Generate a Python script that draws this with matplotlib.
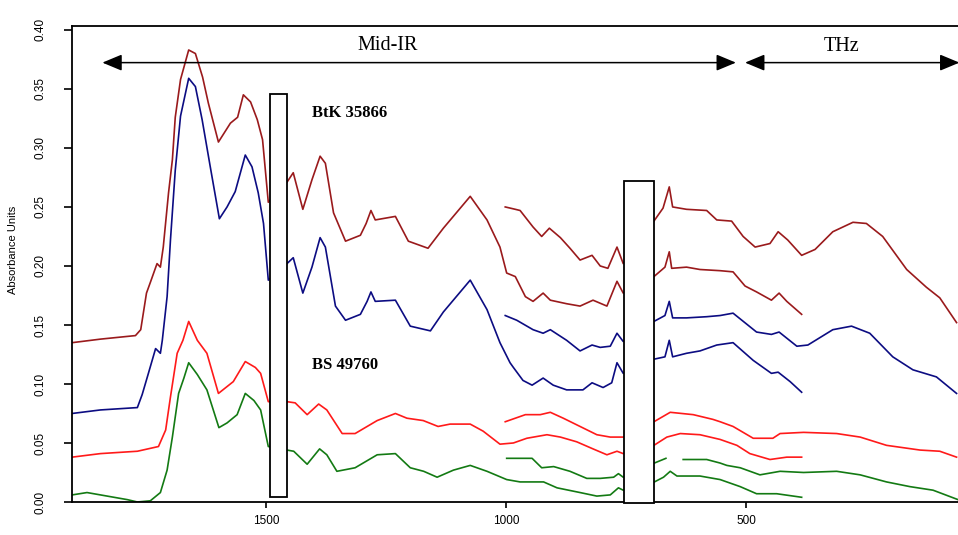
import numpy as np
import matplotlib
matplotlib.use("Agg")
import matplotlib.pyplot as plt
from matplotlib.patches import Rectangle, FancyArrowPatch

nan = np.nan

# --- BtK 35866, first spectrum (dark red) ---
btk1_mir_wn = [1905, 1846, 1773, 1762, 1750, 1742, 1728, 1721, 1715, 1704, 1696, 1690, 1679,
               1662, 1648, 1633, 1621, 1600, 1575, 1560, 1548, 1533, 1519, 1508, 1496,
               1457, 1444, 1424, 1405, 1388, 1377, 1360, 1335, 1304, 1292, 1282, 1273, 1231,
               1204, 1163, 1131, 1075, 1040, 1013, 999, 981, 960, 944, 923, 908, 874, 846,
               819, 790, 769, 756,
               692, 669, 660, 655, 624, 596, 554, 527, 502, 478, 447, 431, 415, 384]
btk1_mir_abs = [0.135, 0.138, 0.141, 0.146, 0.177, 0.186, 0.202, 0.199, 0.216, 0.262, 0.290, 0.326, 0.358,
                0.383, 0.380, 0.360, 0.338, 0.305, 0.321, 0.326, 0.345, 0.339, 0.324, 0.307, 0.254,
                0.271, 0.279, 0.248, 0.273, 0.293, 0.287, 0.245, 0.221, 0.226, 0.236, 0.247, 0.239, 0.242,
                0.221, 0.215, 0.232, 0.259, 0.239, 0.216, 0.194, 0.191, 0.174, 0.170, 0.177, 0.171, 0.168, 0.166,
                0.171, 0.166, 0.187, 0.177,
                0.191, 0.199, 0.212, 0.198, 0.199, 0.197, 0.196, 0.195, 0.183, 0.178, 0.171, 0.177, 0.170, 0.159]
btk1_fir_wn = [1002, 981, 971, 944, 926, 910, 887, 867, 846, 821, 804, 788, 769, 756,
               692, 673, 660, 653, 624, 582, 561, 530, 506, 481, 450, 433, 413, 384, 356, 319,
               277, 249, 215, 165, 124, 96, 61]
btk1_fir_abs = [0.250, 0.248, 0.247, 0.233, 0.225, 0.232, 0.224, 0.215, 0.205, 0.209, 0.200, 0.198, 0.216, 0.202,
                0.238, 0.249, 0.267, 0.250, 0.248, 0.247, 0.239, 0.238, 0.225, 0.216, 0.219, 0.229, 0.222,
                0.209, 0.214, 0.229, 0.237, 0.236, 0.225, 0.197, 0.182, 0.173, 0.152]

# --- BtK 35866, second spectrum (navy) ---
btk2_mir_wn = [1905, 1846, 1769, 1759, 1746, 1731, 1721, 1717, 1707, 1700, 1690, 1679, 1662, 1648,
               1634, 1617, 1598, 1582, 1565, 1544, 1530, 1517, 1506, 1496,
               1457, 1444, 1424, 1405, 1388, 1377, 1356, 1335, 1304, 1290, 1282, 1273, 1231, 1200,
               1158, 1131, 1075, 1040, 1013, 992, 985, 965, 946, 923, 902, 874, 840, 821, 798, 780,
               769, 756,
               692, 669, 660, 653, 624, 596, 561, 527, 485, 447, 433, 408, 384]
btk2_mir_abs = [0.075, 0.078, 0.080, 0.091, 0.109, 0.130, 0.126, 0.137, 0.174, 0.222, 0.281, 0.327, 0.359, 0.352,
                0.324, 0.284, 0.240, 0.250, 0.263, 0.294, 0.284, 0.262, 0.236, 0.188,
                0.202, 0.207, 0.177, 0.199, 0.224, 0.216, 0.166, 0.154, 0.159, 0.170, 0.178, 0.170, 0.171, 0.149,
                0.145, 0.161, 0.188, 0.163, 0.135, 0.118, 0.114, 0.103, 0.099, 0.105, 0.099, 0.095, 0.095, 0.101,
                0.097, 0.101, 0.118, 0.109,
                0.121, 0.123, 0.137, 0.123, 0.126, 0.128, 0.133, 0.135, 0.120, 0.109, 0.110, 0.102, 0.093]
btk2_fir_wn = [1002, 978, 944, 923, 908, 874, 846, 821, 804, 783, 769, 756,
               692, 669, 660, 653, 624, 582, 554, 527, 478, 447, 431, 394, 371, 319, 280, 242,
               194, 152, 103, 61]
btk2_fir_abs = [0.158, 0.154, 0.146, 0.143, 0.146, 0.137, 0.128, 0.133, 0.131, 0.132, 0.143, 0.136,
                0.153, 0.158, 0.170, 0.156, 0.156, 0.157, 0.158, 0.160, 0.144, 0.142, 0.144, 0.132, 0.133,
                0.146, 0.149, 0.143, 0.123, 0.112, 0.106, 0.092]

# --- BS 49760, first spectrum (red) ---
bs1_mir_wn = [1905, 1846, 1769, 1725, 1710, 1700, 1686, 1674, 1662, 1644, 1624, 1600, 1569, 1544,
              1523, 1512, 1496,
              1457, 1440, 1415, 1391, 1374, 1342, 1315, 1269, 1231, 1207, 1173, 1142, 1117, 1075,
              1048, 1013, 985, 957, 915, 887, 853, 819, 790, 769, 756,
              692, 665, 637, 596, 554, 519, 492, 450, 415, 384]
bs1_mir_abs = [0.038, 0.041, 0.043, 0.047, 0.061, 0.089, 0.126, 0.137, 0.153, 0.137, 0.126, 0.092, 0.102, 0.119,
               0.114, 0.109, 0.085,
               0.085, 0.084, 0.074, 0.083, 0.078, 0.058, 0.058, 0.069, 0.075, 0.071, 0.069, 0.064, 0.066, 0.066,
               0.060, 0.049, 0.050, 0.054, 0.057, 0.055, 0.051, 0.045, 0.040, 0.043, 0.041,
               0.048, 0.055, 0.058, 0.057, 0.053, 0.048, 0.041, 0.036, 0.038, 0.038]
bs1_fir_wn = [1002, 960, 929, 908, 881, 846, 811, 783, 756,
              692, 658, 610, 569, 554, 527, 485, 444, 429, 380, 311, 262, 207, 137, 96, 61]
bs1_fir_abs = [0.068, 0.074, 0.074, 0.076, 0.071, 0.064, 0.057, 0.055, 0.055,
               0.068, 0.076, 0.074, 0.070, 0.068, 0.064, 0.054, 0.054, 0.058, 0.059, 0.058, 0.055,
               0.048, 0.044, 0.043, 0.038]

# --- BS 49760, second spectrum (green) ---
bs2_mir_wn = [1905, 1874, 1832, 1790, 1769, 1742, 1721, 1707, 1696, 1683, 1672, 1662, 1644, 1624,
              1599, 1582, 1561, 1544, 1526, 1512, 1496,
              1457, 1443, 1415, 1389, 1374, 1353, 1315, 1269, 1231, 1200, 1172, 1144, 1110, 1075,
              1040, 999, 971, 922, 894, 846, 811, 783, 766, 756,
              691, 672, 658, 644, 596, 554, 512, 478, 436, 384]
bs2_mir_abs = [0.006, 0.008, 0.005, 0.002, 0.000, 0.001, 0.008, 0.027, 0.055, 0.092, 0.105, 0.118, 0.108, 0.095,
               0.063, 0.067, 0.074, 0.092, 0.086, 0.078, 0.047,
               0.044, 0.043, 0.032, 0.045, 0.040, 0.026, 0.029, 0.040, 0.041, 0.029, 0.026, 0.021, 0.027, 0.031,
               0.026, 0.019, 0.017, 0.017, 0.012, 0.008, 0.005, 0.006, 0.012, 0.010,
               0.017, 0.021, 0.026, 0.022, 0.022, 0.019, 0.013, 0.007, 0.007, 0.004]
bs2_fir_wn = [999, 946, 926, 901, 867, 832, 804, 776, 766, 756,
              691, 667, nan, 631, 582, 554, 540, 512, 471, 429, 380, 311, 262, 207, 158, 110, 58]
bs2_fir_abs = [0.037, 0.037, 0.029, 0.030, 0.026, 0.020, 0.020, 0.021, 0.024, 0.021,
               0.033, 0.037, nan, 0.036, 0.036, 0.033, 0.031, 0.029, 0.023, 0.026, 0.025, 0.026,
               0.023, 0.017, 0.013, 0.010, 0.002]

series = [
    (btk1_mir_wn, btk1_mir_abs, "#9a1a1c"),
    (btk1_fir_wn, btk1_fir_abs, "#9a1a1c"),
    (btk2_mir_wn, btk2_mir_abs, "#0c0c82"),
    (btk2_fir_wn, btk2_fir_abs, "#0c0c82"),
    (bs1_mir_wn, bs1_mir_abs, "#ff1a1a"),
    (bs1_fir_wn, bs1_fir_abs, "#ff1a1a"),
    (bs2_mir_wn, bs2_mir_abs, "#137a13"),
    (bs2_fir_wn, bs2_fir_abs, "#137a13"),
]

y_ticks = [0.00, 0.05, 0.10, 0.15, 0.20, 0.25, 0.30, 0.35, 0.40]
x_ticks = [1500, 1000, 500]

fig = plt.figure(figsize=(9.58, 5.35), dpi=100)
ax = fig.add_axes([0.0748, 0.0617, 0.9252, 0.8903])

for wn, ab, col in series:
    ax.plot(wn, ab, color=col, lw=1.2, zorder=2)

# white boxes hiding the detector gaps
ax.add_patch(Rectangle((1457, 0.004), 36, 0.342, facecolor="white",
                       edgecolor="black", lw=1.3, zorder=4))
ax.add_patch(Rectangle((691, -0.001), 63, 0.273, facecolor="white",
                       edgecolor="black", lw=1.3, zorder=4, clip_on=False))

# spectral region arrows
arrow_y = 0.3723
for a, b in [(1842, 521), (502, 55)]:
    ax.add_patch(FancyArrowPatch((a, arrow_y), (b, arrow_y),
                                 arrowstyle="<|-|>,head_length=12,head_width=5",
                                 mutation_scale=1, lw=1.1, color="black",
                                 shrinkA=0, shrinkB=0, zorder=5, clip_on=False))
ax.text(1248, 0.387, "Mid-IR", family="Liberation Serif", fontsize=14.5,
        ha="center", va="center")
ax.text(300, 0.386, "THz", family="Liberation Serif", fontsize=14.5,
        ha="center", va="center")

ax.text(1404, 0.330, "BtK 35866", family="Liberation Serif", fontweight="bold",
        fontsize=12, ha="left", va="center")
ax.text(1404, 0.116, "BS 49760", family="Liberation Serif", fontweight="bold",
        fontsize=12, ha="left", va="center")

ax.set_xlim(1906, 58)
ax.set_ylim(0, 0.4036)
ax.set_xticks(x_ticks)
ax.set_xticklabels([str(t) for t in x_ticks], family="Liberation Sans", fontsize=8.5)
ax.set_yticks(y_ticks)
ax.set_yticklabels(["%.2f" % t for t in y_ticks], family="Liberation Sans",
                   fontsize=8.5, rotation=90, va="center")
ax.tick_params(axis="y", direction="out", length=6, width=1.2, pad=12)
ax.tick_params(axis="x", direction="out", length=4.5, width=1.2, pad=5)

ax.set_ylabel("Absorbance Units", family="Liberation Sans", fontsize=8)
ax.yaxis.set_label_coords(-0.0606, 0.529)

for s in ["left", "top", "bottom"]:
    ax.spines[s].set_linewidth(1.3)
ax.spines["right"].set_visible(False)

fig.savefig("out.png", dpi=100)
